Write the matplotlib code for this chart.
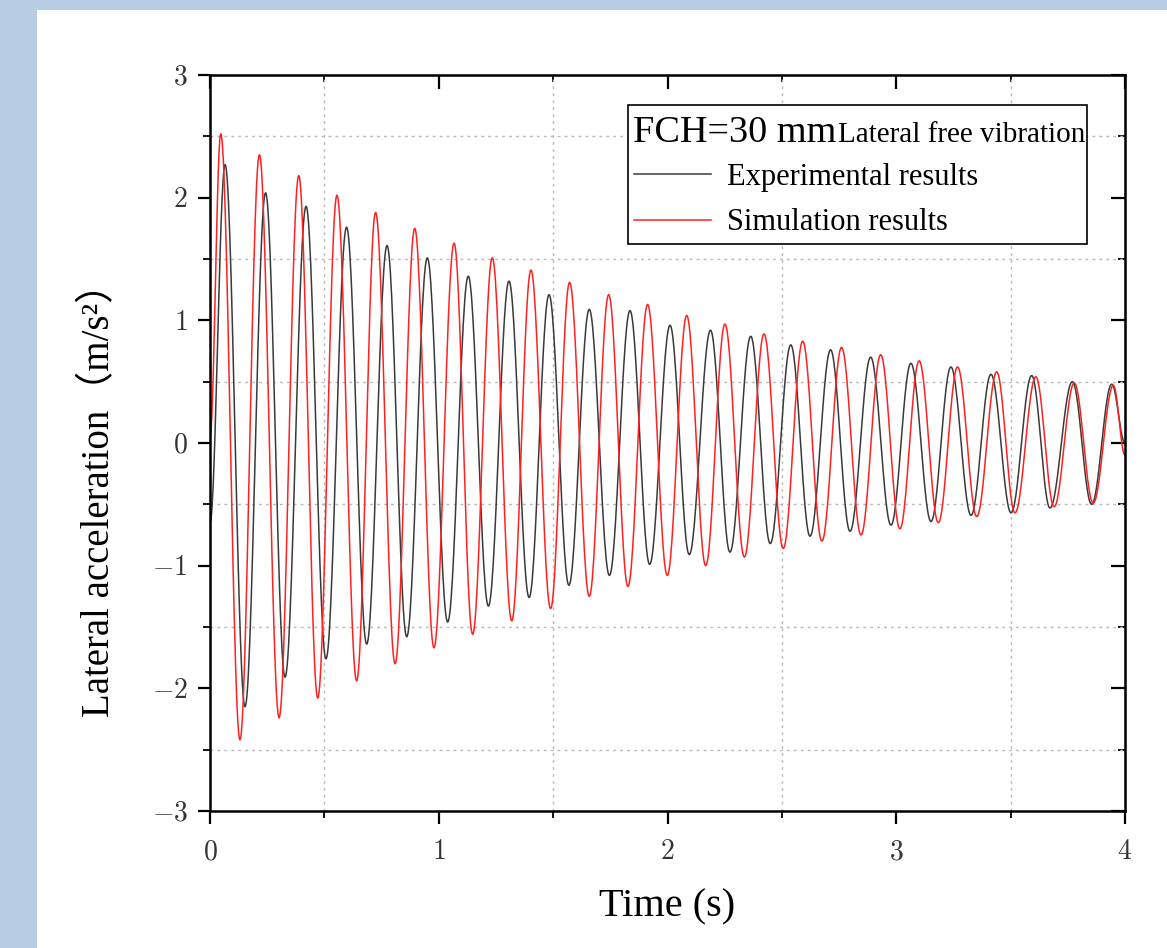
import numpy as np
import matplotlib
matplotlib.use("Agg")
import matplotlib.pyplot as plt
from matplotlib.patches import Rectangle
from matplotlib.ticker import MultipleLocator, FuncFormatter

# extrema (time in s, acceleration in m/s^2)
exp_start = (0.0, -0.65)
exp_end = (4.0, 0.0)
exp_peak_t = [0.066, 0.243, 0.420, 0.597, 0.774, 0.950, 1.129, 1.307, 1.482, 1.658, 1.836, 2.011,
              2.188, 2.364, 2.539, 2.713, 2.888, 3.064, 3.239, 3.414, 3.592, 3.770, 3.942]
exp_peak_v = [2.27, 2.04, 1.93, 1.76, 1.61, 1.51, 1.36, 1.32, 1.21, 1.09, 1.08, 0.96,
              0.92, 0.87, 0.80, 0.76, 0.70, 0.65, 0.62, 0.56, 0.55, 0.50, 0.48]
exp_trough_t = [0.153, 0.328, 0.507, 0.685, 0.860, 1.039, 1.217, 1.395, 1.569, 1.746, 1.922,
                2.095, 2.273, 2.449, 2.623, 2.798, 2.977, 3.152, 3.327, 3.502, 3.672, 3.854]
exp_trough_v = [-2.15, -1.91, -1.76, -1.64, -1.58, -1.46, -1.33, -1.26, -1.16, -1.08, -0.99,
                -0.91, -0.89, -0.82, -0.76, -0.72, -0.67, -0.64, -0.59, -0.57, -0.53, -0.50]

sim_start = (0.0, 0.05)
sim_end = (4.0, -0.10)
sim_peak_t = [0.047, 0.216, 0.388, 0.555, 0.724, 0.895, 1.067, 1.234, 1.403, 1.572, 1.743, 1.913,
              2.084, 2.251, 2.422, 2.591, 2.761, 2.932, 3.100, 3.268, 3.439, 3.610, 3.778, 3.949]
sim_peak_v = [2.52, 2.35, 2.18, 2.02, 1.88, 1.75, 1.63, 1.51, 1.41, 1.31, 1.21, 1.13,
              1.04, 0.97, 0.89, 0.83, 0.78, 0.72, 0.67, 0.62, 0.58, 0.54, 0.49, 0.47]
sim_trough_t = [0.131, 0.302, 0.471, 0.641, 0.809, 0.979, 1.148, 1.319, 1.489, 1.658, 1.827,
                1.999, 2.167, 2.336, 2.506, 2.675, 2.846, 3.016, 3.184, 3.352, 3.519, 3.690, 3.861]
sim_trough_v = [-2.42, -2.24, -2.08, -1.94, -1.80, -1.67, -1.56, -1.45, -1.35, -1.25, -1.17,
                -1.08, -1.00, -0.93, -0.86, -0.80, -0.75, -0.70, -0.65, -0.60, -0.57, -0.52, -0.49]


def trace(start, end, pt, pv, tt, tv, n=30):
    # join the read extrema with half-cosine arcs so the line looks like the sampled signal
    pts = sorted([start, end] + list(zip(pt, pv)) + list(zip(tt, tv)))
    t = [p[0] for p in pts]
    v = [p[1] for p in pts]
    xs, ys = [], []
    s = np.linspace(0, 1, n, endpoint=False)
    for i in range(len(t) - 1):
        xs.append(t[i] + (t[i + 1] - t[i]) * s)
        ys.append(v[i] + (v[i + 1] - v[i]) * (1 - np.cos(np.pi * s)) / 2)
    xs.append([t[-1]])
    ys.append([v[-1]])
    return np.concatenate(xs), np.concatenate(ys)


plt.rcParams['font.family'] = ['Liberation Serif', 'Noto Sans CJK SC', 'DejaVu Serif']
plt.rcParams['mathtext.fontset'] = 'cm'

fig = plt.figure(figsize=(11.67, 9.48), dpi=100, facecolor='#b8cce4')
fig.patches.append(Rectangle((37 / 1167, 0), 1, 1 - 10 / 948, transform=fig.transFigure,
                             facecolor='white', edgecolor='none', zorder=-1))
ax = fig.add_axes([210 / 1167, 137 / 948, 915 / 1167, 736 / 948])

ex, ey = trace(exp_start, exp_end, exp_peak_t, exp_peak_v, exp_trough_t, exp_trough_v)
sx, sy = trace(sim_start, sim_end, sim_peak_t, sim_peak_v, sim_trough_t, sim_trough_v)
ax.plot(ex, ey, color='#3a3a3a', lw=1.1, label='Experimental results')
ax.plot(sx, sy, color='#ff2020', lw=1.1, label='Simulation results')

ax.set_xlim(0, 4)
ax.set_ylim(-3, 3)
ax.xaxis.set_major_locator(MultipleLocator(1))
ax.xaxis.set_minor_locator(MultipleLocator(0.5))
ax.yaxis.set_major_locator(MultipleLocator(1))
ax.yaxis.set_minor_locator(MultipleLocator(0.5))
fmt = FuncFormatter(lambda v, p: '$%d$' % round(v))
ax.xaxis.set_major_formatter(fmt)
ax.yaxis.set_major_formatter(fmt)
ax.tick_params(which='major', direction='out', length=9, width=1.6, labelsize=20,
               labelcolor='#333333')
ax.tick_params(axis='x', which='major', pad=12)
ax.tick_params(axis='y', which='major', pad=7)
ax.tick_params(which='minor', direction='out', length=5, width=1.3)
ax.grid(which='minor', color='#b8b8b8', lw=1.0, linestyle=(0, (2, 3)))
for sp in ax.spines.values():
    sp.set_linewidth(1.8)

# inward ticks on top and right
top = ax.secondary_xaxis('top')
top.xaxis.set_major_locator(MultipleLocator(1))
top.xaxis.set_minor_locator(MultipleLocator(0.5))
top.tick_params(which='major', direction='in', length=10, width=1.6, labeltop=False)
top.tick_params(which='minor', direction='in', length=5, width=1.3)
right = ax.secondary_yaxis('right')
right.yaxis.set_major_locator(MultipleLocator(1))
right.yaxis.set_minor_locator(MultipleLocator(0.5))
right.tick_params(which='major', direction='in', length=10, width=1.6, labelright=False)
right.tick_params(which='minor', direction='in', length=5, width=1.3)

ax.set_xlabel('Time (s)', fontsize=29)
ax.xaxis.set_label_coords(0.5, -0.105)
ax.set_ylabel('Lateral acceleration（m/s²）', fontsize=28)
ax.yaxis.set_label_coords(-0.10, 0.436)

leg = ax.legend(loc='upper left', bbox_to_anchor=(0.457, 0.959, 0.502, 0.0), mode='expand',
                borderaxespad=0, fontsize=22, title=' ', title_fontsize=27,
                handlelength=2.5, handletextpad=0.55, labelspacing=0.55, borderpad=0.2,
                frameon=True, fancybox=False, edgecolor='black', framealpha=1)
leg.get_frame().set_linewidth(1.2)
ax.text(0.462, 0.909, 'FCH=30 mm', transform=ax.transAxes, fontsize=27.5, va='baseline',
        zorder=10)
ax.text(0.686, 0.909, 'Lateral free vibration', transform=ax.transAxes, fontsize=21,
        va='baseline', zorder=10)

fig.savefig('out.png', dpi=100, facecolor=fig.get_facecolor())
